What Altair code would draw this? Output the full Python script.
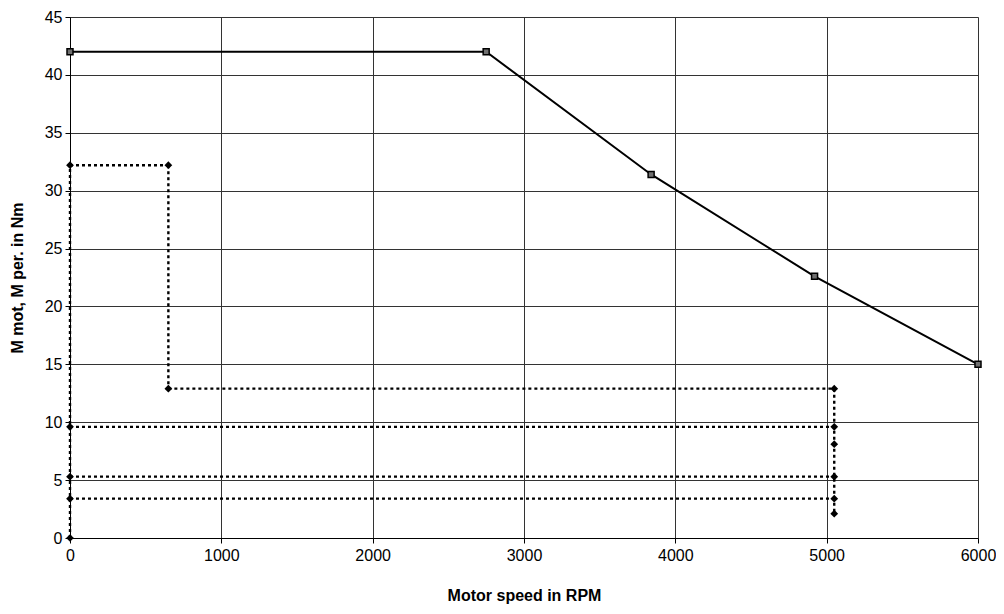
import altair as alt
import pandas as pd

# Solid curve: max motor torque
mot_speed = [0, 2750, 3840, 4920, 6000]
mot_torque = [42.0, 42.0, 31.4, 22.6, 15.0]

# Dotted load cycle segments (start/end points)
seg_id = ["a", "a", "b", "b", "c", "c", "d", "d", "e", "e", "f", "f", "g", "g", "h", "h"]
seg_speed = [0, 0, 0, 650, 650, 650, 650, 5050, 5050, 5050, 0, 5050, 0, 5050, 0, 5050]
seg_torque = [0, 32.2, 32.2, 32.2, 32.2, 12.9, 12.9, 12.9, 12.9, 2.1, 9.6, 9.6, 5.3, 5.3, 3.4, 3.4]

# Dotted markers
pt_speed = [0, 0, 0, 0, 0, 650, 650, 5050, 5050, 5050, 5050, 5050, 5050]
pt_torque = [0, 3.4, 5.3, 9.6, 32.2, 32.2, 12.9, 12.9, 9.6, 8.1, 5.3, 3.4, 2.1]

mot = pd.DataFrame({"speed": mot_speed, "torque": mot_torque})
seg = pd.DataFrame({"seg": seg_id, "speed": seg_speed, "torque": seg_torque,
                    "o": list(range(len(seg_id)))})
pts = pd.DataFrame({"speed": pt_speed, "torque": pt_torque})

xs = alt.Scale(domain=[0, 6000], nice=False)
ys = alt.Scale(domain=[0, 45], nice=False)
common = dict(grid=True, gridColor="#333333", gridOpacity=1, domainColor="black",
              tickColor="black", labelFontSize=16, titleFontSize=16, titleFontWeight="bold",
              labelFont="Liberation Sans", titleFont="Liberation Sans", labelColor="black",
              titleColor="black", tickSize=5, labelFlush=False, format="d")
xax = alt.Axis(values=[0, 1000, 2000, 3000, 4000, 5000, 6000], title="Motor speed in RPM",
               labelPadding=4, titlePadding=24, **common)
yax = alt.Axis(values=list(range(0, 46, 5)), title="M mot, M per. in Nm",
               labelPadding=3, titlePadding=19, **common)

base_x = alt.X("speed:Q", scale=xs, axis=xax)
base_y = alt.Y("torque:Q", scale=ys, axis=yax)

dotted = alt.Chart(seg).mark_line(color="black", strokeWidth=2.4, strokeDash=[3, 3]).encode(
    x=base_x, y=base_y, detail="seg:N", order="o:Q")
dpts = alt.Chart(pts).mark_point(shape="diamond", filled=True, color="black", size=60, opacity=1).encode(
    x="speed:Q", y="torque:Q")
solid = alt.Chart(mot).mark_line(color="black", strokeWidth=2).encode(x="speed:Q", y="torque:Q")
spts = alt.Chart(mot).mark_point(shape="square", filled=True, fill="#707070", stroke="black",
                                  strokeWidth=1.5, size=36, opacity=1).encode(x="speed:Q", y="torque:Q")

chart = alt.layer(dotted, dpts, solid, spts).properties(
    width=908, height=521,
    autosize=alt.AutoSizeParams(type="none"),
    padding={"left": 62, "top": 9, "right": 18, "bottom": 68},
).configure_view(stroke="black", strokeWidth=1).configure(background="white")

chart.save("out.html", embed_options={"renderer": "svg", "actions": False})
